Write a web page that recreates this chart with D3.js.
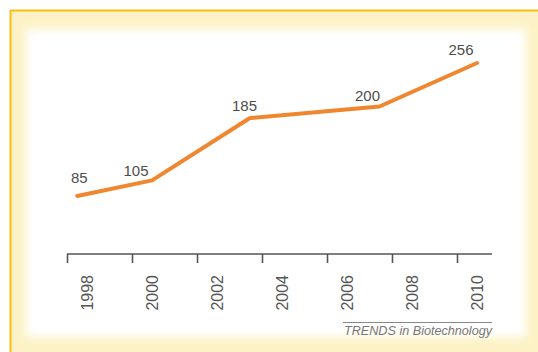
<!DOCTYPE html>
<html>
<head>
<meta charset="utf-8">
<script src="https://cdn.jsdelivr.net/npm/d3@7"></script>
<style>
  html, body { margin: 0; padding: 0; background: #fff; }
  svg { display: block; }
  text { font-family: "Liberation Sans", Arial, sans-serif; }
</style>
</head>
<body>
<svg id="chart" width="538" height="352"></svg>
<script>
// Yearly counts
const years = [1997.7, 2000, 2003, 2007, 2010];
const counts = [85, 105, 185, 200, 256];
const tickYears = [1998, 2000, 2002, 2004, 2006, 2008, 2010];
const tickLabels = ["1998", "2000", "2002", "2004", "2006", "2008", "2010"];
const sourceText = "TRENDS in Biotechnology";

const svg = d3.select("#chart");

// Framed panel: orange rule, pale yellow band, soft white interior
const defs = svg.append("defs");
defs.append("filter").attr("id", "soft")
  .attr("x", "-10%").attr("y", "-10%").attr("width", "120%").attr("height", "120%")
  .append("feGaussianBlur").attr("stdDeviation", 4);

svg.append("rect").attr("x", 10).attr("y", 10).attr("width", 540).attr("height", 350)
  .attr("fill", "#fcf2c6");
svg.append("rect").attr("x", 26).attr("y", 29).attr("width", 500).attr("height", 308)
  .attr("fill", "#ffffff").attr("filter", "url(#soft)");
svg.append("line").attr("x1", 10.5).attr("x2", 10.5).attr("y1", 10).attr("y2", 352)
  .attr("stroke", "#fdbc14").attr("stroke-width", 2);
svg.append("line").attr("x1", 10).attr("x2", 538).attr("y1", 10.5).attr("y2", 10.5)
  .attr("stroke", "#fdbc14").attr("stroke-width", 2);

// Scales
const x = d3.scaleLinear().domain([1998, 2010]).range([87, 477]);
const y = d3.scaleLinear().domain([0, 256]).range([262, 63]);

// Axis
const axisY = 254;
const tickShift = -20;
const axis = d3.axisBottom(x)
  .tickValues(tickYears)
  .tickFormat((d, i) => tickLabels[i])
  .tickSize(9)
  .tickSizeOuter(0);

const gAxis = svg.append("g").attr("transform", `translate(0,${axisY})`).call(axis);
gAxis.select(".domain").remove();
gAxis.append("line")
  .attr("x1", x(1998) + tickShift).attr("x2", x(2010) + 15)
  .attr("y1", 0).attr("y2", 0)
  .attr("stroke", "#555").attr("stroke-width", 1.6);
gAxis.selectAll(".tick line")
  .attr("x1", tickShift).attr("x2", tickShift)
  .attr("stroke", "#555").attr("stroke-width", 1.6);
gAxis.selectAll(".tick text")
  .attr("transform", "rotate(-90)")
  .attr("x", -21).attr("y", 0).attr("dy", "0.36em")
  .attr("text-anchor", "end")
  .attr("fill", "#555")
  .style("font-size", "16px")
  .style("font-family", "'Liberation Sans', Arial, sans-serif");

// Series line
const pts = years.map((yr, i) => [yr, counts[i]]);
const line = d3.line().x(d => x(d[0])).y(d => y(d[1]));
svg.append("path")
  .attr("d", line(pts))
  .attr("fill", "none")
  .attr("stroke", "#f0862e")
  .attr("stroke-width", 4)
  .attr("stroke-linejoin", "round")
  .attr("stroke-linecap", "round");

// Value labels above each point
const labelDx = [2, -16, -5, -12, -16];
const labelDy = [-13, -4, -7, -6, -8];
svg.append("g").selectAll("text")
  .data(pts)
  .join("text")
  .attr("x", (d, i) => x(d[0]) + labelDx[i])
  .attr("y", (d, i) => y(d[1]) + labelDy[i])
  .attr("text-anchor", "middle")
  .attr("fill", "#4d4d4d")
  .style("font-size", "15px")
  .text(d => d[1]);

// Source credit
svg.append("line")
  .attr("x1", 343).attr("x2", 492).attr("y1", 322.5).attr("y2", 322.5)
  .attr("stroke", "#888").attr("stroke-width", 1);
svg.append("text")
  .attr("x", 492).attr("y", 335)
  .attr("text-anchor", "end")
  .attr("fill", "#777")
  .style("font-size", "12px")
  .style("font-style", "italic")
  .attr("textLength", 148)
  .attr("lengthAdjust", "spacingAndGlyphs")
  .text(sourceText);
</script>
</body>
</html>
